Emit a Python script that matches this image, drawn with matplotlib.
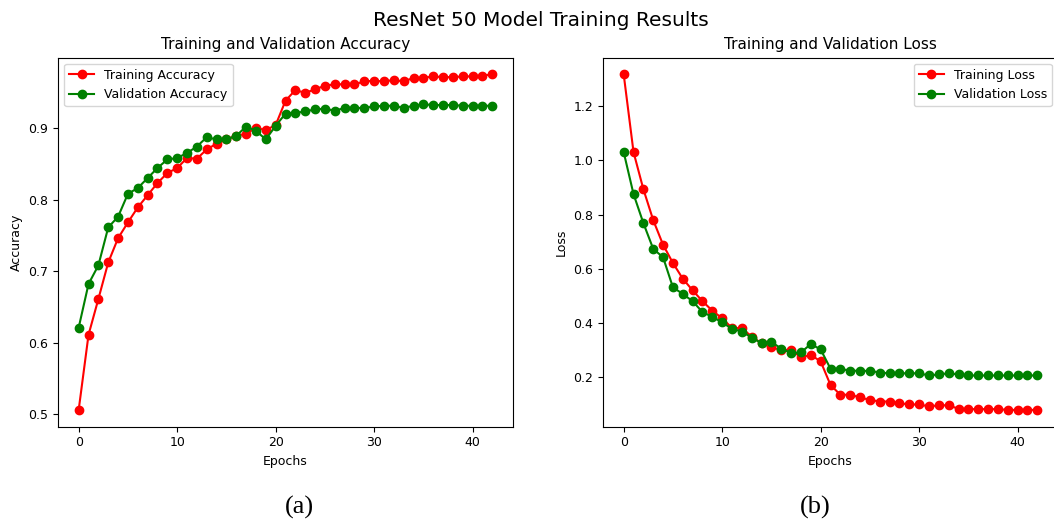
import numpy as np
import matplotlib
matplotlib.use('Agg')
import matplotlib.pyplot as plt

# values
epochs = list(range(43))

train_acc = [0.506, 0.611, 0.661, 0.712, 0.746, 0.768, 0.789, 0.806, 0.823, 0.837,
             0.844, 0.858, 0.857, 0.870, 0.878, 0.884, 0.889, 0.892, 0.900, 0.897,
             0.904, 0.938, 0.953, 0.949, 0.954, 0.959, 0.961, 0.961, 0.961, 0.965,
             0.966, 0.965, 0.967, 0.965, 0.970, 0.970, 0.972, 0.971, 0.971, 0.972,
             0.972, 0.973, 0.975]
val_acc = [0.621, 0.682, 0.708, 0.761, 0.776, 0.808, 0.816, 0.830, 0.844, 0.856,
           0.858, 0.865, 0.874, 0.887, 0.884, 0.884, 0.889, 0.902, 0.896, 0.884,
           0.903, 0.920, 0.921, 0.923, 0.926, 0.927, 0.924, 0.928, 0.928, 0.928,
           0.930, 0.931, 0.931, 0.928, 0.931, 0.933, 0.932, 0.932, 0.932, 0.931,
           0.931, 0.931, 0.931]

train_loss = [1.318, 1.031, 0.894, 0.780, 0.689, 0.622, 0.564, 0.521, 0.481, 0.446,
              0.418, 0.382, 0.382, 0.350, 0.326, 0.311, 0.301, 0.301, 0.274, 0.283,
              0.259, 0.172, 0.136, 0.136, 0.126, 0.117, 0.111, 0.111, 0.105, 0.100,
              0.100, 0.093, 0.097, 0.097, 0.084, 0.083, 0.083, 0.083, 0.083, 0.080,
              0.080, 0.080, 0.080]
val_loss = [1.031, 0.876, 0.769, 0.674, 0.643, 0.532, 0.508, 0.481, 0.441, 0.423,
            0.403, 0.379, 0.369, 0.347, 0.326, 0.331, 0.306, 0.290, 0.292, 0.323,
            0.303, 0.232, 0.231, 0.225, 0.224, 0.224, 0.218, 0.215, 0.215, 0.215,
            0.215, 0.207, 0.211, 0.215, 0.211, 0.207, 0.207, 0.207, 0.207, 0.207,
            0.207, 0.207, 0.207]

W, H = 1054, 524
fig = plt.figure(figsize=(W / 100, H / 100), dpi=100)

def px_axes(x0, y0, x1, y1):
    return fig.add_axes([x0 / W, 1 - y1 / H, (x1 - x0) / W, (y1 - y0) / H])

ax1 = px_axes(58, 57.5, 513, 426.7)
ax2 = px_axes(603, 57.5, 1058, 426.7)

ax1.plot(epochs, train_acc, 'ro-', markersize=6, label='Training Accuracy')
ax1.plot(epochs, val_acc, 'o-', color='green', markersize=6, label='Validation Accuracy')
ax1.set_title('Training and Validation Accuracy', fontsize=11)
ax1.set_xlabel('Epochs', fontsize=9)
ax1.set_ylabel('Accuracy', fontsize=9)
ax1.tick_params(labelsize=9)
ax1.legend(loc='upper left', fontsize=9)

ax2.plot(epochs, train_loss, 'ro-', markersize=6, label='Training Loss')
ax2.plot(epochs, val_loss, 'o-', color='green', markersize=6, label='Validation Loss')
ax2.set_title('Training and Validation Loss', fontsize=11)
ax2.set_xlabel('Epochs', fontsize=9)
ax2.set_ylabel('Loss', fontsize=9)
ax2.tick_params(labelsize=9)
ax2.legend(loc='upper right', fontsize=9)

fig.text(541 / W, 1 - 20 / H, 'ResNet 50 Model Training Results', fontsize=14.5,
         ha='center', va='center')

fig.text(299 / W, 1 - 507 / H, '(a)', family='Liberation Serif', fontsize=19,
         ha='center', va='center')
fig.text(815 / W, 1 - 507 / H, '(b)', family='Liberation Serif', fontsize=19,
         ha='center', va='center')

fig.savefig('out.png', dpi=100)
